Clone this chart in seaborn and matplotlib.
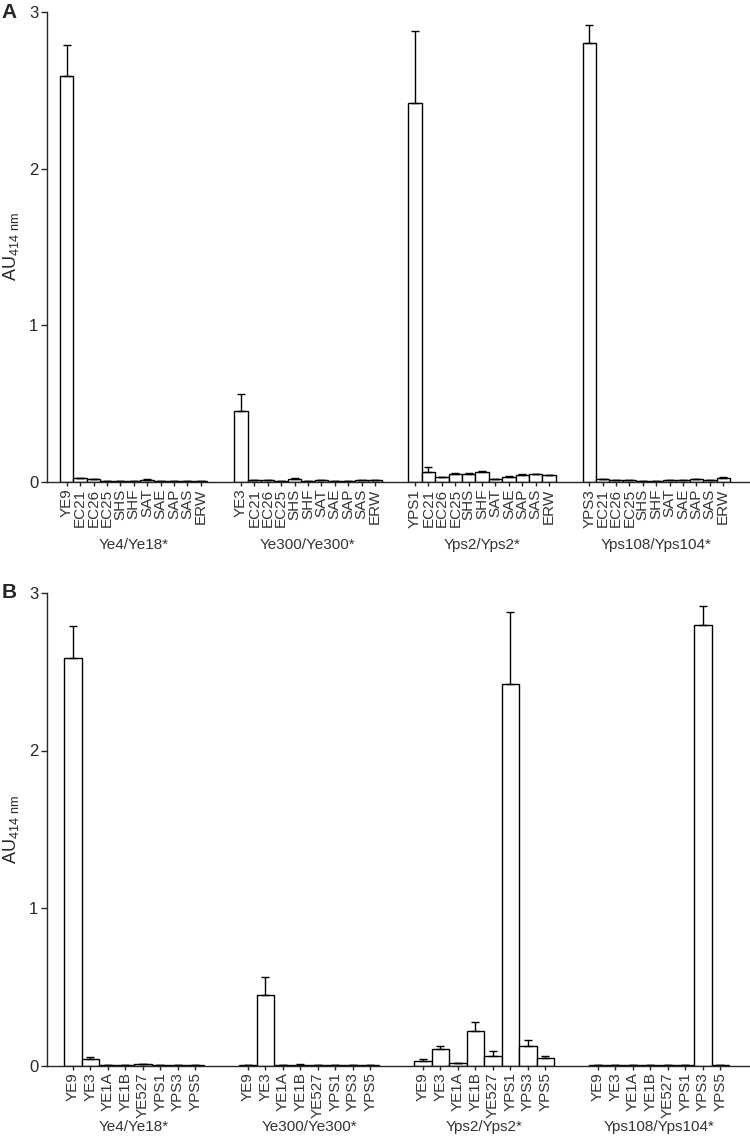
import numpy as np
import pandas as pd
import seaborn as sns
import matplotlib.pyplot as plt
from matplotlib.transforms import blended_transform_factory

sns.set_style('ticks')
plt.rcParams['font.family'] = ['Liberation Sans', 'DejaVu Sans']
plt.rcParams['mathtext.fontset'] = 'custom'
plt.rcParams['mathtext.rm'] = 'Liberation Sans'

# group names (same for both panels)
groups = ['Ye4/Ye18*', 'Ye300/Ye300*', 'Yps2/Yps2*', 'Yps108/Yps104*']

# Panel A: antigens per group
a_labels = [
    ['YE9', 'EC21', 'EC26', 'EC25', 'SHS', 'SHF', 'SAT', 'SAE', 'SAP', 'SAS', 'ERW'],
    ['YE3', 'EC21', 'EC26', 'EC25', 'SHS', 'SHF', 'SAT', 'SAE', 'SAP', 'SAS', 'ERW'],
    ['YPS1', 'EC21', 'EC26', 'EC25', 'SHS', 'SHF', 'SAT', 'SAE', 'SAP', 'SAS', 'ERW'],
    ['YPS3', 'EC21', 'EC26', 'EC25', 'SHS', 'SHF', 'SAT', 'SAE', 'SAP', 'SAS', 'ERW'],
]
a_means = [
    [2.59, 0.022, 0.015, 0.005, 0.005, 0.005, 0.012, 0.005, 0.005, 0.005, 0.005],
    [0.45, 0.010, 0.010, 0.005, 0.015, 0.005, 0.010, 0.005, 0.005, 0.008, 0.008],
    [2.42, 0.064, 0.028, 0.049, 0.051, 0.062, 0.017, 0.030, 0.043, 0.047, 0.040],
    [2.80, 0.015, 0.010, 0.010, 0.005, 0.005, 0.008, 0.012, 0.015, 0.012, 0.022],
]
a_err = [
    [0.20, 0.004, 0.003, 0.001, 0.001, 0.001, 0.003, 0.001, 0.001, 0.001, 0.001],
    [0.11, 0.003, 0.003, 0.001, 0.006, 0.001, 0.003, 0.001, 0.001, 0.002, 0.002],
    [0.46, 0.032, 0.004, 0.005, 0.005, 0.006, 0.003, 0.004, 0.004, 0.003, 0.004],
    [0.12, 0.003, 0.002, 0.002, 0.001, 0.001, 0.002, 0.002, 0.003, 0.002, 0.005],
]

# Panel B
b_labels = [['YE9', 'YE3', 'YE1A', 'YE1B', 'YE527', 'YPS1', 'YPS3', 'YPS5']] * 4
b_means = [
    [2.59, 0.040, 0.005, 0.002, 0.008, 0.003, 0.005, 0.005],
    [0.003, 0.45, 0.005, 0.006, 0.004, 0.004, 0.004, 0.004],
    [0.030, 0.106, 0.015, 0.220, 0.061, 2.42, 0.125, 0.047],
    [0.004, 0.004, 0.005, 0.005, 0.004, 0.005, 2.80, 0.005],
]
b_err = [
    [0.20, 0.017, 0.001, 0.001, 0.002, 0.001, 0.001, 0.001],
    [0.001, 0.11, 0.001, 0.001, 0.001, 0.001, 0.001, 0.001],
    [0.010, 0.019, 0.003, 0.055, 0.028, 0.46, 0.038, 0.014],
    [0.001, 0.001, 0.001, 0.001, 0.001, 0.001, 0.12, 0.001],
]


def make_df(labels, means, errs):
    rows = []
    for g, (labs, ms, es) in enumerate(zip(labels, means, errs)):
        n = len(labs)
        for i, (lab, m, e) in enumerate(zip(labs, ms, es)):
            rows.append({'group': g, 'label': lab, 'pos': g * (n + 2) + i, 'val': m, 'err': e})
    return pd.DataFrame(rows)


def draw_panel(ax, df, xmax, label_y):
    sns.barplot(data=df, x='pos', y='val', native_scale=True, width=1.0,
                color='white', edgecolor='black', linewidth=1.0, ax=ax, errorbar=None)
    ax.errorbar(df['pos'], df['val'], yerr=[np.zeros(len(df)), df['err']],
                fmt='none', ecolor='black', elinewidth=1.0, capsize=3, capthick=1.0)
    ax.set_xlim(-1.5, xmax)
    ax.set_ylim(0, 3)
    ax.set_yticks([0, 1, 2, 3])
    ax.set_xticks(df['pos'])
    ax.set_xticklabels(df['label'], rotation=90, fontsize=11, color='#333333')
    ax.tick_params(axis='x', length=3, width=1, pad=2)
    ax.tick_params(axis='y', length=4, width=1, pad=2, labelsize=12)
    ax.set_xlabel('')
    ax.set_ylabel('AU$_{\\mathregular{414\\ nm}}$', fontsize=13, labelpad=6)
    for s in ['left', 'bottom']:
        ax.spines[s].set_linewidth(1.0)
    sns.despine(ax=ax)
    trans = blended_transform_factory(ax.transData, fig.transFigure)
    for g, name in enumerate(groups):
        sub = df[df['group'] == g]
        ax.text(sub['pos'].mean(), label_y, name, transform=trans,
                ha='center', va='center', fontsize=11, color='#333333')
    return ax


fig = plt.figure(figsize=(7.5, 11.37), dpi=100)
H = 1137.0
axA = fig.add_axes([46.7 / 750, 1 - 481.7 / H, 1 - 46.7 / 750, (481.7 - 12) / H])
axB = fig.add_axes([46.7 / 750, 1 - 1065.5 / H, 1 - 46.7 / 750, (1065.5 - 593) / H])

dfA = make_df(a_labels, a_means, a_err)
dfB = make_df(b_labels, b_means, b_err)
draw_panel(axA, dfA, 51.0, 1 - 545 / H)
draw_panel(axB, dfB, 38.7, 1 - 1127 / H)

fig.text(0.002, 1 - 13 / H, 'A', fontsize=15, fontweight='bold', va='center', ha='left')
fig.text(0.002, 1 - 592 / H, 'B', fontsize=15, fontweight='bold', va='center', ha='left')

fig.savefig('out.png', dpi=100)
